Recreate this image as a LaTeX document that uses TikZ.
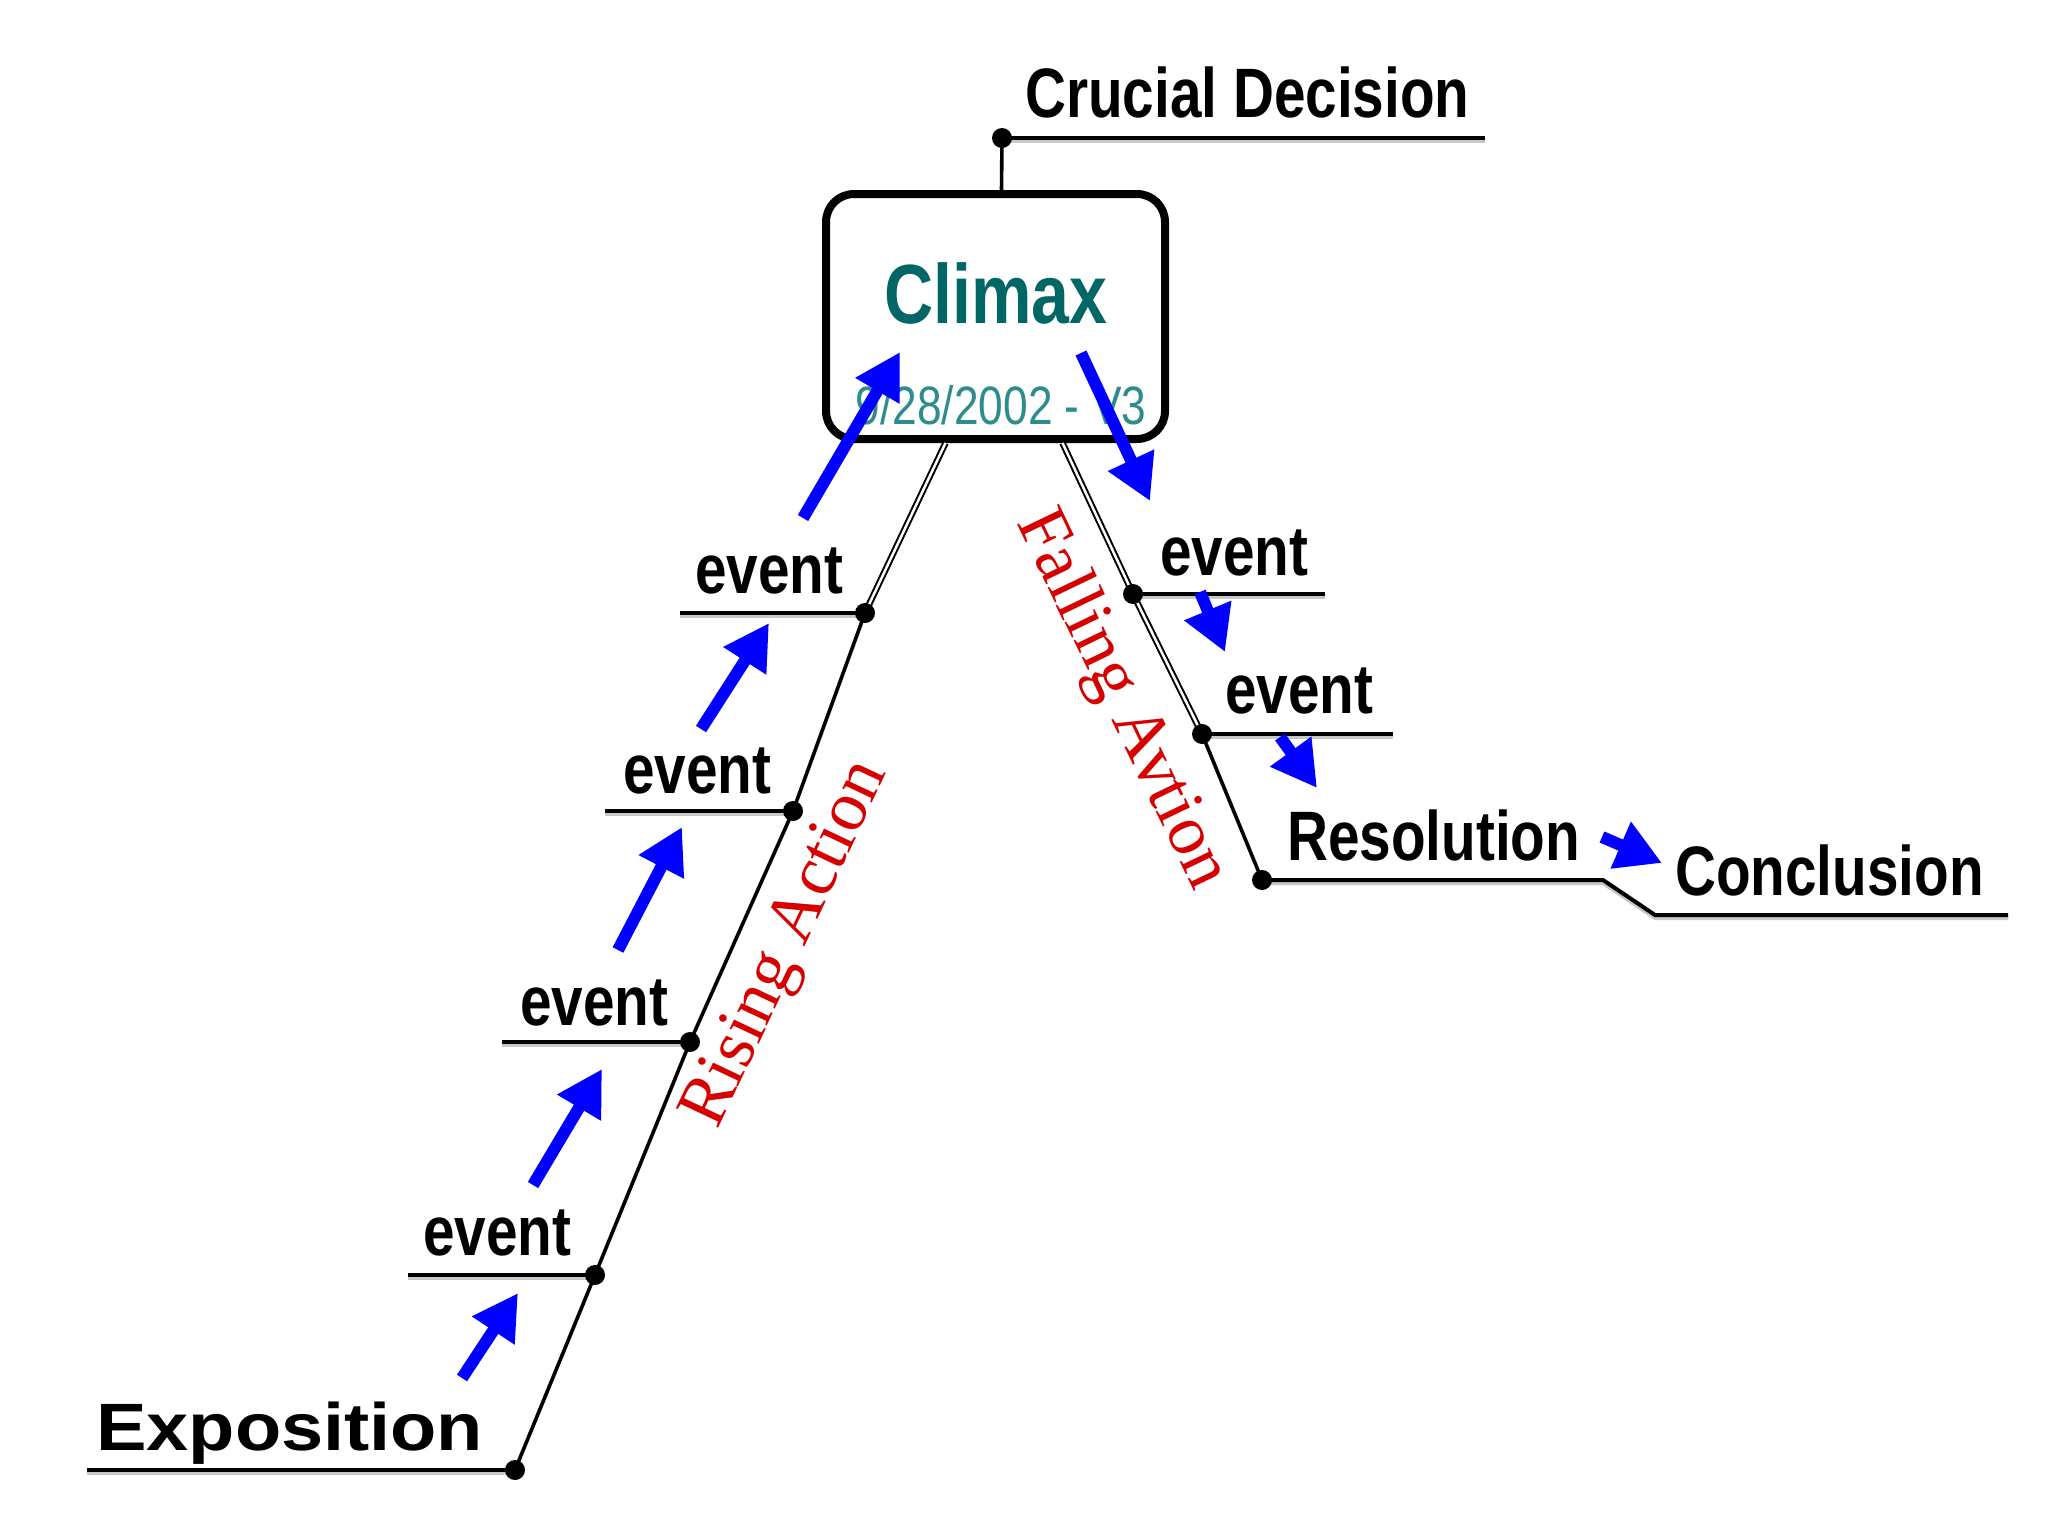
\documentclass[tikz,border=0pt]{standalone}
\usepackage{fontspec}
\usetikzlibrary{arrows.meta, calc}

\newfontfamily\labelfont[FakeStretch=0.81]{Liberation Sans}
\newfontfamily\expofont[FakeStretch=1.13]{Liberation Sans}
\newfontfamily\datefont[FakeStretch=0.82]{Liberation Sans}
\newfontfamily\actfont{Liberation Serif}

\definecolor{climaxteal}{RGB}{0,102,102}
\definecolor{dateteal}{RGB}{45,140,140}
\definecolor{actred}{RGB}{215,0,0}
\definecolor{flowblue}{RGB}{0,0,255}

\begin{document}
\begin{tikzpicture}[
        x=1pt, y=-1pt,
        lbl/.style={
            inner sep=0pt, anchor=base west,
            font=\labelfont\bfseries\fontsize{70}{80}\selectfont
        },
        act/.style={
            inner sep=0pt, text=actred,
            font=\actfont\fontsize{71}{80}\selectfont
        },
        uline/.style={
            line width=4pt,
            preaction={draw=black!22, line width=4pt, transform canvas={yshift=-3pt}}
        },
        stem/.style={line width=3.6pt},
        twin/.style={double, double distance=2.5pt, line width=2pt},
        flow/.style={
            draw=flowblue, line width=12pt,
            -{Triangle[length=45pt, width=48pt]}
        }
    ]
        \fill[white] (0,0) rectangle (2048,1536);
        \useasboundingbox (0,0) rectangle (2048,1536);

        % Climax box
        \node (box) [draw, line width=8pt, rounded corners=28pt, minimum width=339pt,
            minimum height=245pt, inner sep=0pt] at (995.5,316.5) {};
        \node (climax) [anchor=base, inner sep=0pt, text=climaxteal,
            font=\labelfont\bfseries\fontsize{84}{90}\selectfont] at (996,323) {Climax};
        \node (date) [anchor=base, inner sep=0pt, text=dateteal,
            font=\datefont\fontsize{54}{60}\selectfont] at (1001,424) {9/28/2002 - V3};

        % Points on the plot line
        \coordinate (expo) at (515,1470);
        \coordinate (ev1) at (595,1275);
        \coordinate (ev2) at (690,1042);
        \coordinate (ev3) at (793,811);
        \coordinate (ev4) at (865,613);
        \coordinate (riseTop) at ($(box.south)+(-50,0)$);
        \coordinate (fallTop) at ($(box.south)+(67,0)$);
        \coordinate (ev5) at (1133,594);
        \coordinate (ev6) at (1202,734);
        \coordinate (res) at (1262,880);
        \coordinate (crux) at ($(box.north)+(6,0)$);
        \coordinate (decision) at (1002,138);

        % Plot line
        \draw[stem] (expo) -- (ev1) -- (ev2) -- (ev3) -- (ev4);
        \draw[twin] (ev4) -- (riseTop);
        \draw[twin] (fallTop) -- (ev5) -- (ev6);
        \draw[stem] (ev6) -- (res);
        \draw[stem] (crux) -- (decision);

        % Underlines
        \draw[uline] (expo) -- ++(-428,0);
        \draw[uline] (ev1) -- ++(-187,0);
        \draw[uline] (ev2) -- ++(-188,0);
        \draw[uline] (ev3) -- ++(-188,0);
        \draw[uline] (ev4) -- ++(-185,0);
        \draw[uline] (ev5) -- ++(192,0);
        \draw[uline] (ev6) -- ++(191,0);
        \draw[uline] (res) -- ++(341,0) -- ++(52,35) -- ++(353,0);
        \draw[uline] (decision) -- ++(483,0);

        \foreach \p in {expo,ev1,ev2,ev3,ev4,ev5,ev6,res,decision}
            \fill (\p) circle (10pt);

        % Labels
        \node (exposition) [lbl, font=\expofont\bfseries\fontsize{67}{80}\selectfont] at (96,1450) {Exposition};
        \node (event1) [lbl] at (423,1255) {event};
        \node (event2) [lbl] at (520,1025) {event};
        \node (event3) [lbl] at (623,793) {event};
        \node (event4) [lbl] at (695,593) {event};
        \node (event5) [lbl] at (1160,575) {event};
        \node (event6) [lbl] at (1225,713) {event};
        \node (resolution) [lbl] at (1287,860) {Resolution};
        \node (conclusion) [lbl] at (1675,895) {Conclusion};
        \node (crucial) [lbl] at (1025,118) {Crucial Decision};

        \node (rising) [act, rotate=64.7] at (788,945) {Rising Action};
        \node (falling) [act, rotate=-64.3] at (1121,700) {Falling Avtion};

        % Blue arrows
        \foreach \i/\ax/\ay/\bx/\by in {1/462/1378/518/1293, 2/533/1185/602/1069,
                3/618/950/682/827, 4/701/729/769/623, 5/803/518/900/352,
                6/1081/353/1150/501, 7/1200/592/1225/652, 8/1280/737/1317/788,
                9/1602/837/1662/863} {
            \coordinate (f\i a) at (\ax,\ay);
            \coordinate (f\i b) at (\bx,\by);
            \draw[flow] (f\i a) -- (f\i b);
        }
\end{tikzpicture}
\end{document}
